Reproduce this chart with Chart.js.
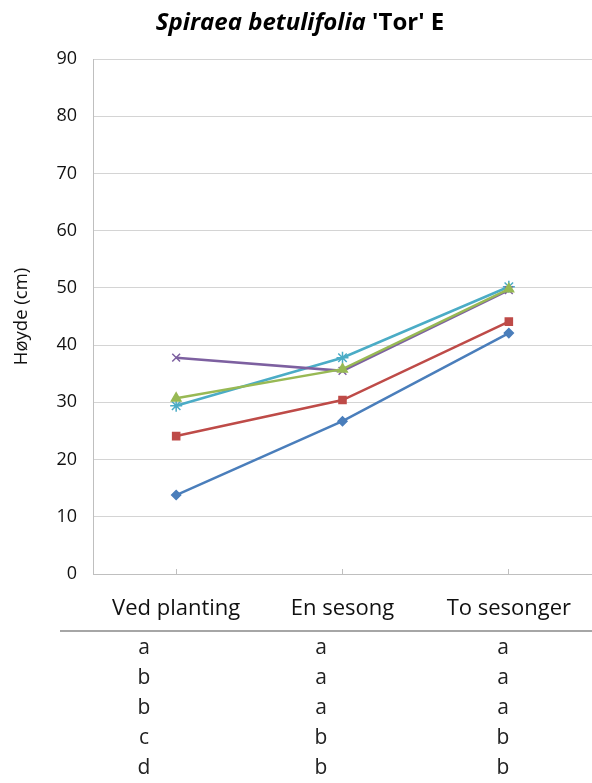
<!DOCTYPE html>
<html>
<head>
<meta charset="utf-8">
<script src="https://cdn.jsdelivr.net/npm/chart.js@4.4.0/dist/chart.umd.min.js"></script>
<style>
  html, body { margin: 0; padding: 0; background: #fff; }
  #wrap { width: 592px; height: 783px; position: relative; }
</style>
</head>
<body>
<div id="wrap"><canvas id="chart"></canvas></div>
<script>
// Categories (x axis)
const categories = ["Ved planting", "En sesong", "To sesonger"];

// Plant height (cm), one list per treatment
const heightBlue = [13.8, 26.7, 42.1];
const heightRed = [24.1, 30.4, 44.1];
const heightGreen = [30.7, 35.8, 49.8];
const heightPurple = [37.8, 35.5, 49.6];
const heightCyan = [29.4, 37.8, 50.2];

// Y axis ticks
const yTicks = [0, 10, 20, 30, 40, 50, 60, 70, 80, 90];

// Significance letters under each category
const lettersVed = ["a", "b", "b", "c", "d"];
const lettersEn = ["a", "a", "a", "b", "b"];
const lettersTo = ["a", "a", "a", "b", "b"];

const FONT = "'Open Sans', sans-serif";

// Title with italic species name + plain cultivar
const titlePlugin = {
    id: "mixedTitle",
    afterDraw(chart) {
        const ctx = chart.ctx;
        const part1 = "Spiraea betulifolia";
        const part2 = " 'Tor' E";
        ctx.save();
        ctx.fillStyle = "#000";
        ctx.textBaseline = "middle";
        ctx.font = "italic bold 24px " + FONT;
        const w1 = ctx.measureText(part1).width;
        ctx.font = "bold 24px " + FONT;
        const w2 = ctx.measureText(part2).width;
        let x = 300 - (w1 + w2) / 2;
        ctx.textAlign = "left";
        ctx.font = "italic bold 24px " + FONT;
        ctx.fillText(part1, x, 23);
        ctx.font = "bold 24px " + FONT;
        ctx.fillText(part2, x + w1, 23);
        ctx.restore();
    }
};

// Letter table below the x axis
const letterPlugin = {
    id: "letterTable",
    afterDraw(chart) {
        const ctx = chart.ctx;
        ctx.save();
        ctx.strokeStyle = "#A6A6A6";
        ctx.lineWidth = 2;
        ctx.beginPath();
        ctx.moveTo(60, 631);
        ctx.lineTo(592, 631);
        ctx.stroke();

        ctx.fillStyle = "#222";
        ctx.font = "21px " + FONT;
        ctx.textAlign = "center";
        ctx.textBaseline = "middle";
        const cols = [[144, lettersVed], [321, lettersEn], [503, lettersTo]];
        cols.forEach(([cx, letters]) => {
            letters.forEach((l, i) => {
                ctx.fillText(l, cx, 648 + i * 30);
            });
        });
        ctx.restore();
    }
};

function makeSet(data, color, style, radius) {
    return {
        data: data,
        borderColor: color,
        backgroundColor: color,
        borderWidth: 2.5,
        pointStyle: style,
        pointRadius: radius,
        pointBorderWidth: 1.5,
        pointHoverRadius: radius,
        tension: 0
    };
}

new Chart(document.getElementById("chart"), {
    type: "line",
    data: {
        labels: categories,
        datasets: [
            makeSet(heightBlue, "#4A7EBB", "rectRot", 4.5),
            makeSet(heightRed, "#BE4B48", "rect", 5),
            makeSet(heightGreen, "#98B954", "triangle", 5.5),
            makeSet(heightPurple, "#7D60A0", "crossRot", 5.5),
            makeSet(heightCyan, "#4BACC6", "star", 6)
        ]
    },
    options: {
        responsive: true,
        maintainAspectRatio: false,
        animation: false,
        devicePixelRatio: 1,
        layout: {
            autoPadding: false,
            padding: { top: 59, left: 0, right: -2, bottom: 0 }
        },
        plugins: {
            legend: { display: false },
            tooltip: { enabled: false },
            title: { display: false }
        },
        scales: {
            x: {
                offset: true,
                grid: {
                    display: true,
                    drawOnChartArea: false,
                    drawTicks: true,
                    tickLength: -5,
                    offset: false,
                    color: "#BFBFBF"
                },
                border: { display: true, color: "#BFBFBF", width: 1 },
                ticks: {
                    color: "#111",
                    font: { family: FONT, size: 22 },
                    padding: 27,
                    maxRotation: 0
                },
                afterFit(scale) {
                    scale.height = 209;
                    scale.paddingLeft = 0;
                    scale.paddingRight = 0;
                }
            },
            y: {
                min: 0,
                max: 90,
                afterBuildTicks(scale) {
                    scale.ticks = yTicks.map(v => ({ value: v }));
                },
                grid: { color: "#D4D4D4", drawTicks: false },
                border: { display: true, color: "#BFBFBF", width: 1 },
                ticks: {
                    color: "#111",
                    font: { family: FONT, size: 18 },
                    padding: 16
                },
                title: {
                    display: true,
                    text: "Høyde (cm)",
                    color: "#111",
                    font: { family: FONT, size: 18.5 },
                    padding: { top: 11, bottom: 0 }
                },
                afterFit(scale) { scale.width = 93; }
            }
        }
    },
    plugins: [titlePlugin, letterPlugin]
});
</script>
</body>
</html>
